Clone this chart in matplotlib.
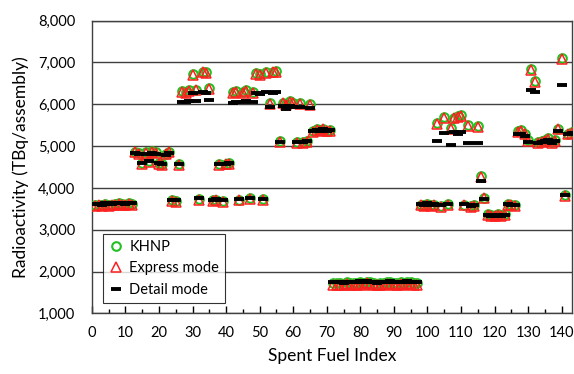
import numpy as np
import matplotlib
matplotlib.use('Agg')
import matplotlib.pyplot as plt
from matplotlib.ticker import MultipleLocator, FuncFormatter

plt.rcParams['font.family'] = ['Lato', 'DejaVu Sans']

# radioactivity per spent fuel assembly (TBq/assembly), index 1..143
khnp = [3590, 3600, 3580, 3610, 3590, 3600, 3620, 3640, 3610, 3600, 3630, 3620,
        4870, 4830, 4600, 4850, 4650, 4880, 4850, 4600, 4560, 4820, 4870,
        3700, 3690, 4570, 6320, 6300, 6330, 6720, 6350, 3740, 6780, 6760, 6380, 3700, 3720, 4560, 3680, 4580,
        4600, 6290, 6310, 3720, 6300, 6330, 3750, 6300, 6750, 6720, 3730, 6770, 6030, 6780, 6800, 5110,
        6040, 6000, 6070, 6040, 5100, 6030, 5090, 5120, 6000, 5350, 5400, 5380, 5420, 5370, 5390, 1730,
        1720, 1730, 1710, 1740, 1720, 1730, 1720, 1750, 1730, 1760, 1740, 1720, 1710, 1730, 1720, 1740,
        1750, 1730, 1720, 1740, 1730, 1750, 1740, 1730, 1720,
        3600, 3580, 3620, 3590, 3600, 5550, 3570, 5700, 3610, 5430, 5680, 5720, 5750, 3600, 5500, 3560,
        3590, 5470, 4280, 3770, 3380, 3350, 3340, 3370, 3360, 3380, 3620, 3600, 3580,
        5350, 5380, 5300, 5150, 6850, 6560, 5100, 5120, 5150, 5200, 5100, 5150, 5420, 7100, 3830, 5300, 5330]

express = [3570, 3580, 3570, 3590, 3570, 3580, 3600, 3620, 3590, 3580, 3610, 3600,
           4850, 4810, 4580, 4830, 4630, 4860, 4830, 4580, 4540, 4800, 4850,
           3680, 3670, 4550, 6300, 6280, 6310, 6700, 6330, 3720, 6760, 6740, 6360, 3680, 3700, 4540, 3660, 4560,
           4580, 6270, 6290, 3700, 6280, 6310, 3730, 6280, 6730, 6700, 3710, 6750, 6010, 6760, 6780, 5090,
           6020, 5980, 6050, 6020, 5080, 6010, 5070, 5100, 5980, 5330, 5380, 5360, 5400, 5350, 5370, 1690,
           1680, 1690, 1670, 1700, 1680, 1690, 1680, 1710, 1690, 1720, 1700, 1680, 1670, 1690, 1680, 1700,
           1710, 1690, 1680, 1700, 1690, 1710, 1700, 1690, 1680,
           3580, 3560, 3600, 3570, 3580, 5530, 3550, 5680, 3590, 5410, 5660, 5700, 5730, 3580, 5480, 3540,
           3570, 5450, 4270, 3750, 3360, 3330, 3320, 3350, 3340, 3360, 3600, 3580, 3560,
           5330, 5360, 5280, 5130, 6830, 6540, 5080, 5100, 5130, 5180, 5080, 5130, 5400, 7080, 3810, 5280, 5310]

detail = [3610, 3620, 3600, 3630, 3610, 3620, 3640, 3650, 3630, 3620, 3640, 3630,
          4830, 4800, 4600, 4820, 4640, 4840, 4820, 4600, 4570, 4790, 4830,
          3720, 3710, 4570, 6060, 6050, 6070, 6270, 6080, 3750, 6290, 6260, 6100, 3710, 3730, 4570, 3700, 4580,
          4600, 6040, 6060, 3730, 6050, 6070, 3760, 6060, 6270, 6250, 3740, 6290, 5940, 6280, 6300, 5100,
          5950, 5880, 5960, 5940, 5100, 5930, 5090, 5110, 5910, 5360, 5390, 5370, 5400, 5360, 5380, 1740,
          1740, 1750, 1730, 1760, 1740, 1750, 1740, 1770, 1750, 1780, 1760, 1740, 1730, 1750, 1740, 1760,
          1770, 1750, 1740, 1760, 1750, 1770, 1760, 1750, 1740,
          3610, 3590, 3630, 3600, 3610, 5130, 3580, 5320, 3620, 5030, 5330, 5290, 5340, 3610, 5070, 3570,
          3600, 5080, 4170, 3740, 3350, 3330, 3320, 3350, 3340, 3360, 3610, 3600, 3580,
          5280, 5300, 5250, 5100, 6330, 6300, 5080, 5100, 5120, 5150, 5080, 5120, 5350, 6460, 3830, 5280, 5310]

idx = np.arange(1, len(khnp) + 1)

fig = plt.figure(figsize=(5.74, 3.74), dpi=100)
ax = fig.add_axes([0.160, 0.162, 0.836, 0.783])

ax.plot(idx, khnp, 'o', ls='none', mfc='none', mec='#22c022', mew=1.5, ms=6.2, label='KHNP', zorder=3)
ax.plot(idx, express, '^', ls='none', mfc='none', mec='#ff2020', mew=1.1, ms=6.5, label='Express mode', zorder=4)
ax.plot(idx, detail, '_', ls='none', color='black', mew=2.8, ms=6.5, label='Detail mode', zorder=5)

ax.set_xlim(0, 143)
ax.set_ylim(1000, 8000)
ax.xaxis.set_major_locator(MultipleLocator(10))
ax.xaxis.set_minor_locator(MultipleLocator(5))
ax.yaxis.set_major_locator(MultipleLocator(1000))
ax.yaxis.set_major_formatter(FuncFormatter(lambda v, p: f'{int(v):,}'))
ax.tick_params(axis='x', which='major', direction='in', length=5, width=1, labelsize=10.5, pad=9)
ax.tick_params(axis='x', which='minor', direction='in', length=3, width=1)
ax.tick_params(axis='y', length=0, labelsize=10.5, pad=12)
ax.grid(axis='y', color='#404040', lw=1)
ax.set_axisbelow(True)
for s in ax.spines.values():
    s.set_color('#404040')
    s.set_linewidth(1)

ax.set_xlabel('Spent Fuel Index', fontsize=12.5, labelpad=6)
ax.set_ylabel('Radioactivity (TBq/assembly)', fontsize=12.5, labelpad=6)

leg = ax.legend(loc='lower left', bbox_to_anchor=(0.023, 0.037), fontsize=10.5, frameon=True,
                fancybox=False, edgecolor='black', handlelength=1.0, handletextpad=0.4,
                borderpad=0.4, labelspacing=0.5, borderaxespad=0)
leg.get_frame().set_linewidth(0.8)

fig.savefig('out.png', dpi=100)
